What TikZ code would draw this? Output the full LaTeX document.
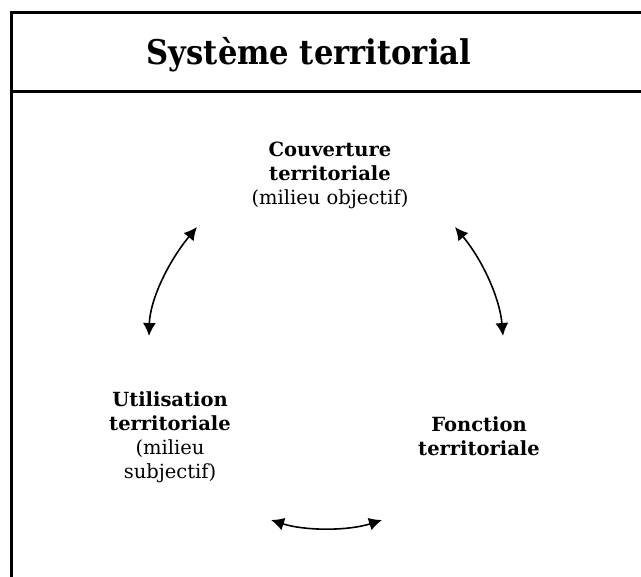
\documentclass[tikz,border=0pt]{standalone}
\usepackage{fontspec}
\setmainfont{DejaVu Serif}
\newfontfamily\titlefont{DejaVu Serif Condensed}
\usetikzlibrary{arrows.meta}
\begin{document}
\begin{tikzpicture}[x=1pt,y=-1pt,
  frame/.style={line width=3pt},
  lbl/.style={align=center,font=\fontsize{19.5}{24}\selectfont,inner sep=0pt},
  link/.style={line width=1.6pt,{Latex[length=13pt,width=13pt]}-{Latex[length=13pt,width=13pt]}}]
\useasboundingbox (0,0) rectangle (641,577);
\draw[frame] (660,13) -- (11,13) -- (11,590);
\draw[frame] (11,92) -- (660,92);
\node[inner sep=0pt,font=\titlefont\bfseries\fontsize{34}{38}\selectfont] (title) at (309,55) {Système territorial};
\node[lbl] (couv) at (330,175) {\textbf{Couverture}\\\textbf{territoriale}\\(milieu objectif)};
\node[lbl] (util) at (170,437) {\textbf{Utilisation}\\\textbf{territoriale}\\(milieu\\subjectif)};
\node[lbl] (fonc) at (479,436) {\textbf{Fonction}\\\textbf{territoriale}};
\coordinate (a1) at (197,227);
\coordinate (a2) at (149,336);
\coordinate (b1) at (455,227);
\coordinate (b2) at (503,336);
\coordinate (c1) at (271,520);
\coordinate (c2) at (382,520);
\draw[link] (a1) .. controls (168,262) and (150,300) .. (a2);
\draw[link] (b1) .. controls (484,262) and (500,300) .. (b2);
\draw[link] (c1) .. controls (305,531) and (348,531) .. (c2);
\end{tikzpicture}
\end{document}
